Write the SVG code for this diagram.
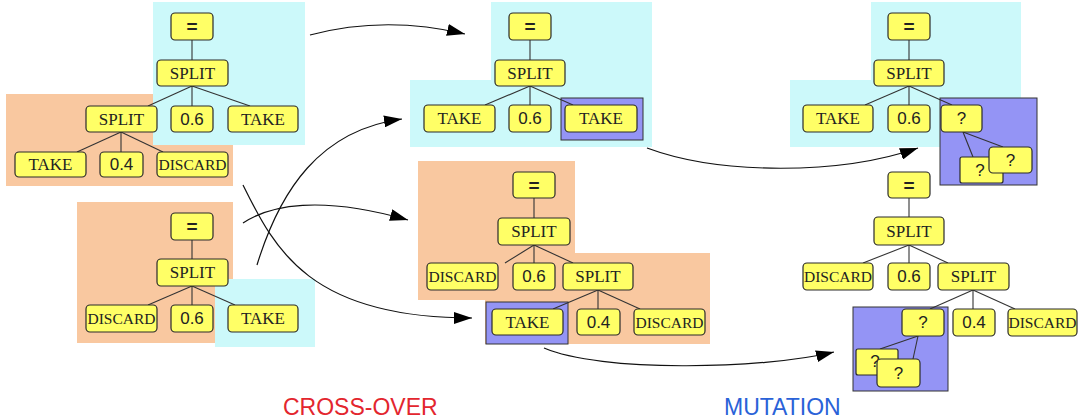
<svg xmlns="http://www.w3.org/2000/svg" width="1081" height="418" viewBox="0 0 1081 418">
<style>
.bg{fill:#ffffff}
.cy{fill:#ccf9fa}
.or{fill:#f9c8a0}
.bl{fill:#9494f5;stroke:#333;stroke-width:1}
.n rect{fill:#ffff66;stroke:#2a2a2a;stroke-width:1.2}
.n text{fill:#222;text-anchor:middle;dominant-baseline:central}
.s{font-family:"Liberation Serif",serif;font-size:17px}
.d{font-family:"Liberation Serif",serif;font-size:15.5px}
.a{font-family:"Liberation Sans",sans-serif;font-size:17px}
.e{font-family:"Liberation Sans",sans-serif;font-size:19px;font-weight:bold}
.te line{stroke:#333;stroke-width:1.1}
.ar path{fill:none;stroke:#111;stroke-width:1.2}
.lab{font-family:"Liberation Sans",sans-serif;font-size:23px}
</style>
<defs>
<marker id="ah" markerWidth="20" markerHeight="12" refX="18" refY="6" orient="auto" markerUnits="userSpaceOnUse"><path d="M0,0 L18,6 L0,12 z" fill="#000"/></marker>
</defs>
<rect class="bg" x="0" y="0" width="1081" height="418"/>
<g id="regions">
<rect class="or" x="6" y="94" width="227" height="92"/>
<rect class="cy" x="153" y="2" width="152" height="143"/>
<rect class="or" x="77" y="202" width="156" height="141"/>
<rect class="cy" x="215" y="279" width="100" height="68"/>
<path class="cy" d="M491,2 H652 V147 H410 V80 H491 Z"/>
<rect class="bl" x="561" y="98" width="82" height="42"/>
<path class="or" d="M418,161 H575 V253 H710 V344 H485 V300 H418 Z"/>
<rect class="bl" x="486" y="302" width="82" height="42"/>
<path class="cy" d="M871,2 H1021 V147 H790 V80 H871 Z"/>
<rect class="bl" x="940" y="98" width="97" height="87"/>
<rect class="bl" x="853" y="307" width="95" height="84"/>
</g>
<g id="tree-edges" class="te">
<line x1="192" y1="40" x2="192" y2="60"/><line x1="192" y1="86" x2="148" y2="106"/><line x1="192" y1="86" x2="192" y2="106"/><line x1="192" y1="86" x2="250" y2="106"/>
<line x1="121" y1="132" x2="77" y2="152"/><line x1="121" y1="132" x2="121" y2="152"/><line x1="121" y1="132" x2="163" y2="152"/>
<line x1="192" y1="240" x2="192" y2="259"/><line x1="192" y1="286" x2="148" y2="305"/><line x1="192" y1="286" x2="192" y2="305"/><line x1="192" y1="286" x2="235" y2="305"/>
<line x1="530" y1="40" x2="530" y2="60"/><line x1="530" y1="86" x2="485" y2="105"/><line x1="530" y1="86" x2="530" y2="105"/><line x1="530" y1="86" x2="573" y2="105"/>
<line x1="534" y1="198" x2="534" y2="218"/><line x1="534" y1="245" x2="505" y2="263"/><line x1="534" y1="245" x2="534" y2="263"/><line x1="534" y1="245" x2="573" y2="263"/>
<line x1="598" y1="290" x2="553" y2="309"/><line x1="598" y1="290" x2="598" y2="309"/><line x1="598" y1="290" x2="640" y2="309"/>
<line x1="909" y1="40" x2="909" y2="60"/><line x1="909" y1="86" x2="865" y2="105"/><line x1="909" y1="86" x2="909" y2="105"/><line x1="909" y1="86" x2="952" y2="105"/>
<line x1="963" y1="132" x2="973" y2="157"/><line x1="963" y1="132" x2="1003" y2="147"/>
<line x1="909" y1="198" x2="909" y2="217"/><line x1="909" y1="245" x2="863" y2="263"/><line x1="909" y1="245" x2="909" y2="263"/><line x1="909" y1="245" x2="948" y2="263"/>
<line x1="973" y1="290" x2="930" y2="309"/><line x1="973" y1="290" x2="973" y2="309"/><line x1="973" y1="290" x2="1015" y2="309"/>
<line x1="918" y1="336" x2="880" y2="349"/><line x1="918" y1="336" x2="913" y2="359"/>
</g>
<g id="a_eq" class="n"><rect x="171" y="13" width="42" height="27" rx="4"/><text class="e" x="192" y="26.5">=</text></g>
<g id="a_split" class="n"><rect x="157" y="60" width="71" height="26" rx="4"/><text class="s" x="192.5" y="73">SPLIT</text></g>
<g id="a_split2" class="n"><rect x="86" y="106" width="71" height="26" rx="4"/><text class="s" x="121.5" y="119">SPLIT</text></g>
<g id="a_06" class="n"><rect x="171" y="106" width="42" height="26" rx="4"/><text class="a" x="192" y="119">0.6</text></g>
<g id="a_take" class="n"><rect x="228" y="106" width="70" height="26" rx="4"/><text class="s" x="263" y="119">TAKE</text></g>
<g id="a_take2" class="n"><rect x="15" y="152" width="71" height="25" rx="4"/><text class="s" x="50.5" y="164.5">TAKE</text></g>
<g id="a_04" class="n"><rect x="100" y="152" width="43" height="25" rx="4"/><text class="a" x="121.5" y="164.5">0.4</text></g>
<g id="a_discard" class="n"><rect x="157" y="152" width="71" height="25" rx="4"/><text class="d" x="192.5" y="164.5">DISCARD</text></g>
<g id="b_eq" class="n"><rect x="171" y="213" width="42" height="27" rx="4"/><text class="e" x="192" y="226.5">=</text></g>
<g id="b_split" class="n"><rect x="157" y="259" width="71" height="27" rx="4"/><text class="s" x="192.5" y="272.5">SPLIT</text></g>
<g id="b_discard" class="n"><rect x="86" y="305" width="71" height="27" rx="4"/><text class="d" x="121.5" y="318.5">DISCARD</text></g>
<g id="b_06" class="n"><rect x="171" y="305" width="42" height="27" rx="4"/><text class="a" x="192" y="318.5">0.6</text></g>
<g id="b_take" class="n"><rect x="228" y="305" width="70" height="27" rx="4"/><text class="s" x="263" y="318.5">TAKE</text></g>
<g id="c_eq" class="n"><rect x="509" y="13" width="42" height="27" rx="4"/><text class="e" x="530" y="26.5">=</text></g>
<g id="c_split" class="n"><rect x="495" y="60" width="70" height="26" rx="4"/><text class="s" x="530" y="73">SPLIT</text></g>
<g id="c_take1" class="n"><rect x="424" y="105" width="71" height="27" rx="4"/><text class="s" x="459.5" y="118.5">TAKE</text></g>
<g id="c_06" class="n"><rect x="509" y="105" width="42" height="27" rx="4"/><text class="a" x="530" y="118.5">0.6</text></g>
<g id="c_take2" class="n"><rect x="565" y="105" width="72" height="27" rx="4"/><text class="s" x="601" y="118.5">TAKE</text></g>
<g id="d_eq" class="n"><rect x="513" y="172" width="42" height="26" rx="4"/><text class="e" x="534" y="185">=</text></g>
<g id="d_split" class="n"><rect x="498" y="218" width="72" height="27" rx="4"/><text class="s" x="534" y="231.5">SPLIT</text></g>
<g id="d_discard" class="n"><rect x="427" y="263" width="71" height="27" rx="4"/><text class="d" x="462.5" y="276.5">DISCARD</text></g>
<g id="d_06" class="n"><rect x="513" y="263" width="42" height="27" rx="4"/><text class="a" x="534" y="276.5">0.6</text></g>
<g id="d_split2" class="n"><rect x="563" y="263" width="70" height="27" rx="4"/><text class="s" x="598" y="276.5">SPLIT</text></g>
<g id="d_take" class="n"><rect x="492" y="309" width="71" height="26" rx="4"/><text class="s" x="527.5" y="322">TAKE</text></g>
<g id="d_04" class="n"><rect x="577" y="309" width="43" height="26" rx="4"/><text class="a" x="598.5" y="322">0.4</text></g>
<g id="d_discard2" class="n"><rect x="634" y="309" width="71" height="26" rx="4"/><text class="d" x="669.5" y="322">DISCARD</text></g>
<g id="e_eq" class="n"><rect x="888" y="13" width="42" height="27" rx="4"/><text class="e" x="909" y="26.5">=</text></g>
<g id="e_split" class="n"><rect x="874" y="60" width="70" height="26" rx="4"/><text class="s" x="909" y="73">SPLIT</text></g>
<g id="e_take" class="n"><rect x="803" y="105" width="70" height="27" rx="4"/><text class="s" x="838" y="118.5">TAKE</text></g>
<g id="e_06" class="n"><rect x="888" y="105" width="42" height="27" rx="4"/><text class="a" x="909" y="118.5">0.6</text></g>
<g id="e_q" class="n"><rect x="941" y="105" width="41" height="27" rx="4"/><text class="a" x="961.5" y="118.5">?</text></g>
<g id="e_q2" class="n"><rect x="960" y="157" width="43" height="26" rx="2"/><text class="a" x="980" y="170">?</text></g>
<g id="e_q3" class="n"><rect x="989" y="147" width="43" height="26" rx="4"/><text class="a" x="1010.5" y="160">?</text></g>
<g id="f_eq" class="n"><rect x="888" y="172" width="42" height="26" rx="4"/><text class="e" x="909" y="185">=</text></g>
<g id="f_split" class="n"><rect x="874" y="217" width="70" height="28" rx="4"/><text class="s" x="909" y="231">SPLIT</text></g>
<g id="f_discard" class="n"><rect x="803" y="263" width="70" height="27" rx="4"/><text class="d" x="838" y="276.5">DISCARD</text></g>
<g id="f_06" class="n"><rect x="888" y="263" width="42" height="27" rx="4"/><text class="a" x="909" y="276.5">0.6</text></g>
<g id="f_split2" class="n"><rect x="938" y="263" width="71" height="27" rx="4"/><text class="s" x="973.5" y="276.5">SPLIT</text></g>
<g id="f_q" class="n"><rect x="902" y="309" width="42" height="27" rx="4"/><text class="a" x="923" y="322.5">?</text></g>
<g id="f_04" class="n"><rect x="953" y="309" width="42" height="27" rx="4"/><text class="a" x="974" y="322.5">0.4</text></g>
<g id="f_discard2" class="n"><rect x="1008" y="309" width="69" height="27" rx="4"/><text class="d" x="1042.5" y="322.5">DISCARD</text></g>
<g id="f_q2" class="n"><rect x="856" y="349" width="42" height="26" rx="2"/><text class="a" x="875" y="361">?</text></g>
<g id="f_q3" class="n"><rect x="877" y="359" width="43" height="28" rx="4"/><text class="a" x="898.5" y="373">?</text></g>
<g id="connectors" class="ar">
<path d="M310,35 Q385,15 465,34" marker-end="url(#ah)"/>
<path d="M257,265 C280,190 320,130 402,119" marker-end="url(#ah)"/>
<path d="M243,223 C270,205 320,195 408,220" marker-end="url(#ah)"/>
<path d="M243,185 C275,250 310,318 472,318" marker-end="url(#ah)"/>
<path d="M647,148 C720,175 840,175 918,148" marker-end="url(#ah)"/>
<path d="M544,348 C600,372 760,370 834,352" marker-end="url(#ah)"/>
</g>
<g id="labels">
<text class="lab" x="283" y="415" fill="#e3262e">CROSS-OVER</text>
<text class="lab" x="724" y="415" fill="#2a62d8">MUTATION</text>
</g>
</svg>
